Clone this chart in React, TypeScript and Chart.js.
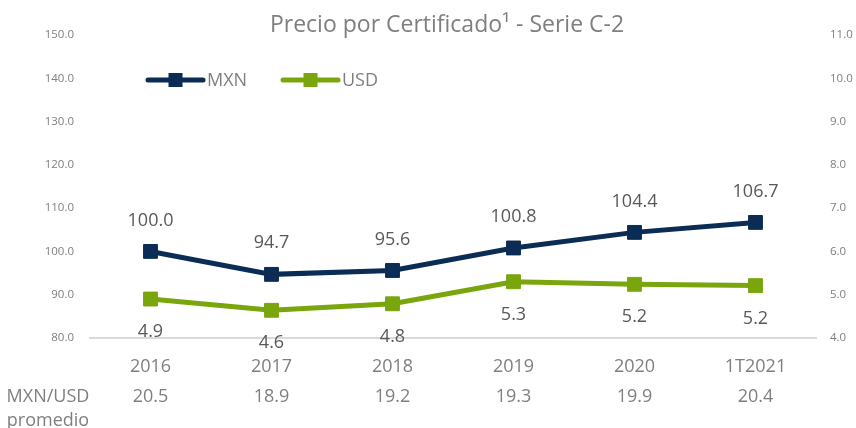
import React, { useEffect, useRef } from 'react';
import { Chart, registerables } from 'chart.js';

Chart.register(...registerables);

// ---- data ----
const categories = ['2016', '2017', '2018', '2019', '2020', '1T2021'];
const mxnValues = [100.0, 94.7, 95.6, 100.8, 104.4, 106.7];
const usdValues = [4.9, 4.64, 4.79, 5.3, 5.24, 5.21];
const fxAverage = ['20.5', '18.9', '19.2', '19.3', '19.9', '20.4'];
const fxRowLabel = ['MXN/USD', 'promedio'];
const seriesNames = ['MXN', 'USD'];
const titleText = 'Precio por Certificado\u00B9 - Serie C-2';
const leftAxis = { min: 80, max: 150, step: 10 };
const rightAxis = { min: 4, max: 11, step: 1 };

const FONT = "'Open Sans', sans-serif";
const NAVY = '#0b2c55';
const GREEN = '#7aa60d';
const GRAY = '#7f7f7f';
const LABEL = '#595959';

const overlayPlugin = {
  id: 'overlay',
  afterDraw(chart: any) {
    const ctx = chart.ctx;
    const area = chart.chartArea;
    ctx.save();
    // title
    ctx.fillStyle = GRAY;
    ctx.font = `23px ${FONT}`;
    ctx.textAlign = 'center';
    ctx.textBaseline = 'middle';
    ctx.fillText(titleText, 447, 25);

    // legend
    const legendItems = [
      { name: seriesNames[0], color: NAVY, x0: 148 },
      { name: seriesNames[1], color: GREEN, x0: 283 },
    ];
    const ly = 80;
    legendItems.forEach((it) => {
      ctx.strokeStyle = it.color;
      ctx.lineWidth = 5;
      ctx.lineCap = 'round';
      ctx.beginPath();
      ctx.moveTo(it.x0, ly);
      ctx.lineTo(it.x0 + 55, ly);
      ctx.stroke();
      ctx.fillStyle = it.color;
      ctx.fillRect(it.x0 + 27.5 - 7, ly - 7, 14, 14);
      ctx.fillStyle = GRAY;
      ctx.font = `18px ${FONT}`;
      ctx.textAlign = 'left';
      ctx.textBaseline = 'middle';
      ctx.fillText(it.name, it.x0 + 59, ly + 1);
    });

    // data labels
    ctx.font = `18px ${FONT}`;
    ctx.textAlign = 'center';
    ctx.textBaseline = 'middle';
    ctx.fillStyle = LABEL;
    chart.data.datasets.forEach((ds: any, di: number) => {
      const meta = chart.getDatasetMeta(di);
      meta.data.forEach((pt: any, i: number) => {
        const v = ds.data[i] as number;
        const dy = di === 0 ? -31 : 33;
        ctx.fillText(v.toFixed(1), pt.x, pt.y + dy);
      });
    });

    // fx row label
    ctx.fillStyle = GRAY;
    ctx.font = `18px ${FONT}`;
    ctx.textAlign = 'center';
    ctx.fillText(fxRowLabel[0], 48, area.bottom + 59);
    ctx.fillText(fxRowLabel[1], 48, area.bottom + 83);
    ctx.restore();
  },
};

export default function App() {
  const ref = useRef<HTMLCanvasElement | null>(null);
  useEffect(() => {
    if (!ref.current) return;
    const chart = new Chart(ref.current, {
      type: 'line',
      data: {
        labels: categories.map((c, i) => [c, fxAverage[i]]),
        datasets: [
          {
            label: seriesNames[0],
            data: mxnValues,
            yAxisID: 'y',
            borderColor: NAVY,
            backgroundColor: NAVY,
            borderWidth: 5,
            pointStyle: 'rect',
            pointRadius: 9.8,
            pointBorderWidth: 1,
            pointBackgroundColor: NAVY,
            pointBorderColor: NAVY,
            tension: 0,
          },
          {
            label: seriesNames[1],
            data: usdValues,
            yAxisID: 'y1',
            borderColor: GREEN,
            backgroundColor: GREEN,
            borderWidth: 5,
            pointStyle: 'rect',
            pointRadius: 9.8,
            pointBorderWidth: 1,
            pointBackgroundColor: GREEN,
            pointBorderColor: GREEN,
            tension: 0,
          },
        ],
      },
      options: {
        responsive: true,
        maintainAspectRatio: false,
        animation: false,
        layout: { padding: { top: 35, bottom: 0, left: 0, right: 0 } },
        plugins: {
          legend: { display: false },
          title: { display: false },
          tooltip: { enabled: false },
        },
        scales: {
          x: {
            offset: true,
            grid: { display: false, drawTicks: false },
            border: { display: true, color: '#d9d9d9', width: 2 },
            ticks: {
              color: GRAY,
              font: { family: FONT, size: 18, lineHeight: 30 / 18 },
              padding: 14,
              maxRotation: 0,
              autoSkip: false,
            },
            afterFit: (s: any) => {
              s.height = 90;
            },
          },
          y: {
            position: 'left',
            min: leftAxis.min,
            max: leftAxis.max,
            grid: { display: false, drawTicks: false },
            border: { display: false },
            ticks: {
              stepSize: leftAxis.step,
              color: GRAY,
              font: { family: FONT, size: 11.5 },
              padding: 16,
              callback: (v: any) => Number(v).toFixed(1),
            },
            afterFit: (s: any) => {
              s.width = 90;
            },
          },
          y1: {
            position: 'right',
            min: rightAxis.min,
            max: rightAxis.max,
            grid: { display: false, drawTicks: false },
            border: { display: false },
            ticks: {
              stepSize: rightAxis.step,
              color: GRAY,
              font: { family: FONT, size: 11.5 },
              padding: 14,
              callback: (v: any) => Number(v).toFixed(1),
            },
            afterFit: (s: any) => {
              s.width = 40;
            },
          },
        },
      },
      plugins: [overlayPlugin],
    });
    return () => chart.destroy();
  }, []);
  return (
    <div style={{ position: 'absolute', left: 0, top: 0, width: 856, height: 428, background: '#fff' }}>
      <canvas ref={ref} />
    </div>
  );
}
